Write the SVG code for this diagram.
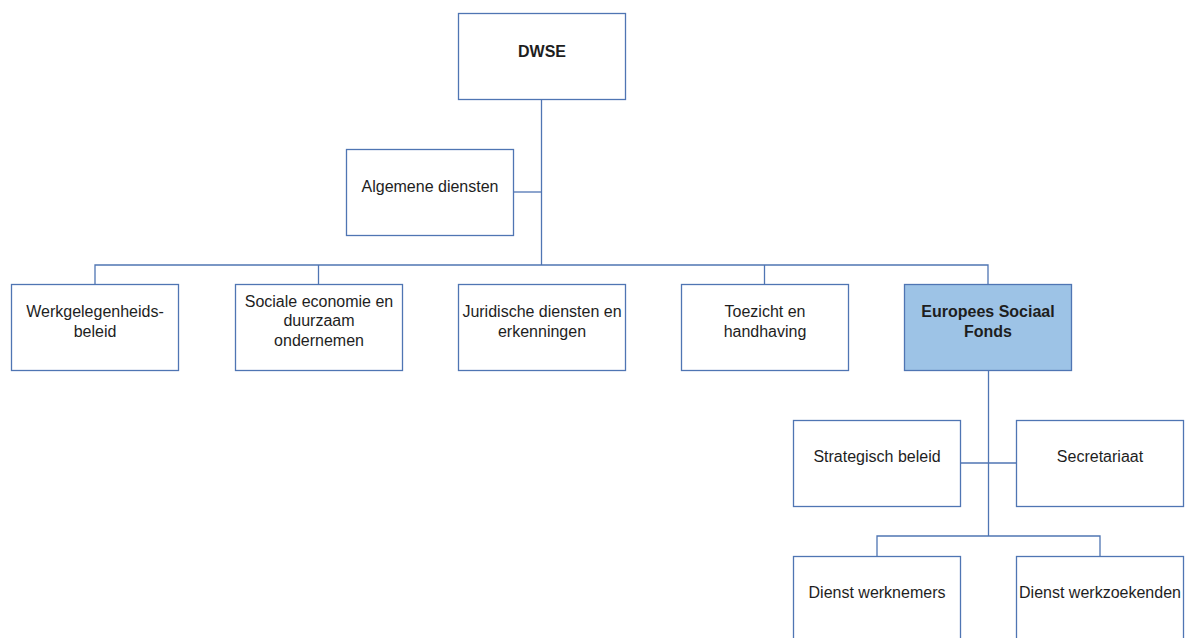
<svg xmlns="http://www.w3.org/2000/svg" width="1186" height="638" viewBox="0 0 1186 638">
<style>
.box{fill:#ffffff;stroke:#4f75b3;stroke-width:1.3}
.hl{fill:#9dc3e6}
.ln{fill:none;stroke:#4f75b3;stroke-width:1.3}
text{font-family:"Liberation Sans",Arial,sans-serif;font-size:16px;fill:#1e1e1e;text-anchor:middle}
.b{font-weight:bold}
</style>
<rect width="1186" height="638" fill="#ffffff"/>
<g id="connectors">
<path class="ln" d="M541.5 99V265"/>
<path class="ln" d="M513 192H541.5"/>
<path class="ln" d="M95 284V265H988V284"/>
<path class="ln" d="M318.5 265V284"/>
<path class="ln" d="M764.5 265V284"/>
<path class="ln" d="M988.5 370V536"/>
<path class="ln" d="M960 463H1017"/>
<path class="ln" d="M877 557V536H1100V557"/>
</g>
<g id="n-dwse"><rect class="box" x="458.5" y="13.5" width="167" height="86"/><text class="b" x="542" y="57">DWSE</text></g>
<g id="n-algemene"><rect class="box" x="346.5" y="149.5" width="167" height="86"/><text x="430" y="192">Algemene diensten</text></g>
<g id="n-werk"><rect class="box" x="11.5" y="284.5" width="167" height="86"/><text x="95" y="317">Werkgelegenheids-</text><text x="95" y="337">beleid</text></g>
<g id="n-sociale"><rect class="box" x="235.5" y="284.5" width="167" height="86"/><text x="319" y="307">Sociale economie en</text><text x="319" y="326">duurzaam</text><text x="319" y="346">ondernemen</text></g>
<g id="n-juridische"><rect class="box" x="458.5" y="284.5" width="167" height="86"/><text x="542" y="317">Juridische diensten en</text><text x="542" y="337">erkenningen</text></g>
<g id="n-toezicht"><rect class="box" x="681.5" y="284.5" width="167" height="86"/><text x="765" y="317">Toezicht en</text><text x="765" y="337">handhaving</text></g>
<g id="n-esf"><rect class="box hl" x="904.5" y="284.5" width="167" height="86"/><text class="b" x="988" y="317">Europees Sociaal</text><text class="b" x="988" y="337">Fonds</text></g>
<g id="n-strategisch"><rect class="box" x="793.5" y="420.5" width="167" height="86"/><text x="877" y="462">Strategisch beleid</text></g>
<g id="n-secretariaat"><rect class="box" x="1016.5" y="420.5" width="167" height="86"/><text x="1100" y="462">Secretariaat</text></g>
<g id="n-werknemers"><rect class="box" x="793.5" y="556.5" width="167" height="100"/><text x="877" y="598">Dienst werknemers</text></g>
<g id="n-werkzoekenden"><rect class="box" x="1016.5" y="556.5" width="167" height="100"/><text x="1100" y="598">Dienst werkzoekenden</text></g>
</svg>
